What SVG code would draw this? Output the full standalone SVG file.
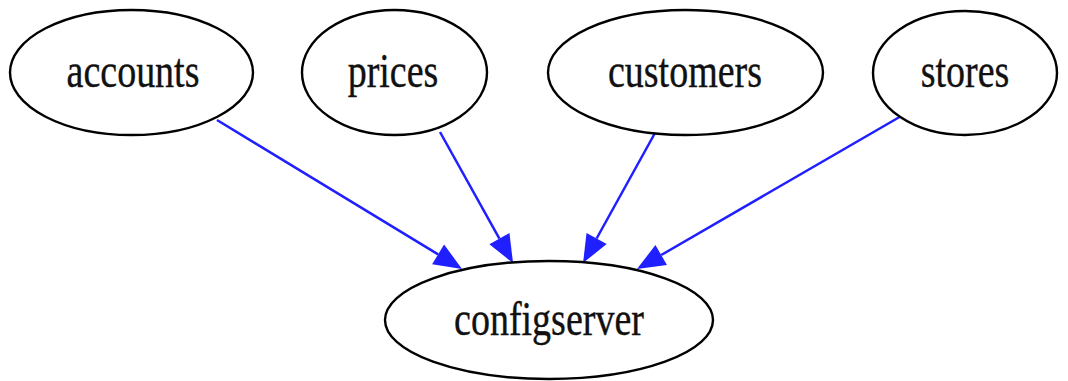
<svg xmlns="http://www.w3.org/2000/svg" width="1068" height="381" viewBox="0 0 1068 381">
  <style>
    .node ellipse { fill: #ffffff; stroke: #000000; stroke-width: 2.4; }
    .node text { font-family: "Liberation Serif", "Times New Roman", serif; font-size: 38px; fill: #111111; stroke: #111111; stroke-width: 0.3; text-anchor: middle; }
    .edge { stroke: #1f1fff; stroke-width: 2.5; fill: none; marker-end: url(#arrow); }
  </style>
  <defs>
    <marker id="arrow" markerUnits="userSpaceOnUse" markerWidth="30" markerHeight="24" refX="0" refY="11.5" orient="auto" overflow="visible">
      <path d="M0,0 L28,11.5 L0,23 Z" fill="#1f1fff"/>
    </marker>
  </defs>
  <rect width="1068" height="381" fill="#ffffff"/>

  <!-- dependencies pointing at the config server -->
  <g id="connectors">
    <line class="edge" x1="217" y1="120" x2="438.1" y2="254.4"/>
    <line class="edge" x1="440" y1="132" x2="499.4" y2="238.6"/>
    <line class="edge" x1="655" y1="133" x2="596.6" y2="238.5"/>
    <line class="edge" x1="903" y1="115" x2="661.2" y2="255.0"/>
  </g>

  <g id="accounts" class="node">
    <ellipse cx="131.5" cy="72.5" rx="121.5" ry="62.5"/>
    <text transform="translate(133,87) scale(1,1.3)">accounts</text>
  </g>
  <g id="prices" class="node">
    <ellipse cx="394.5" cy="72.5" rx="92.5" ry="62.5"/>
    <text transform="translate(393,87) scale(1,1.3)">prices</text>
  </g>
  <g id="customers" class="node">
    <ellipse cx="685.5" cy="72.5" rx="137.5" ry="62.5"/>
    <text transform="translate(685,87) scale(1,1.3)">customers</text>
  </g>
  <g id="stores" class="node">
    <ellipse cx="965" cy="73" rx="92" ry="62"/>
    <text transform="translate(965,87) scale(1,1.3)">stores</text>
  </g>
  <g id="configserver" class="node">
    <ellipse cx="549" cy="320" rx="164" ry="59"/>
    <text transform="translate(549,335) scale(1,1.3)">configserver</text>
  </g>
</svg>
